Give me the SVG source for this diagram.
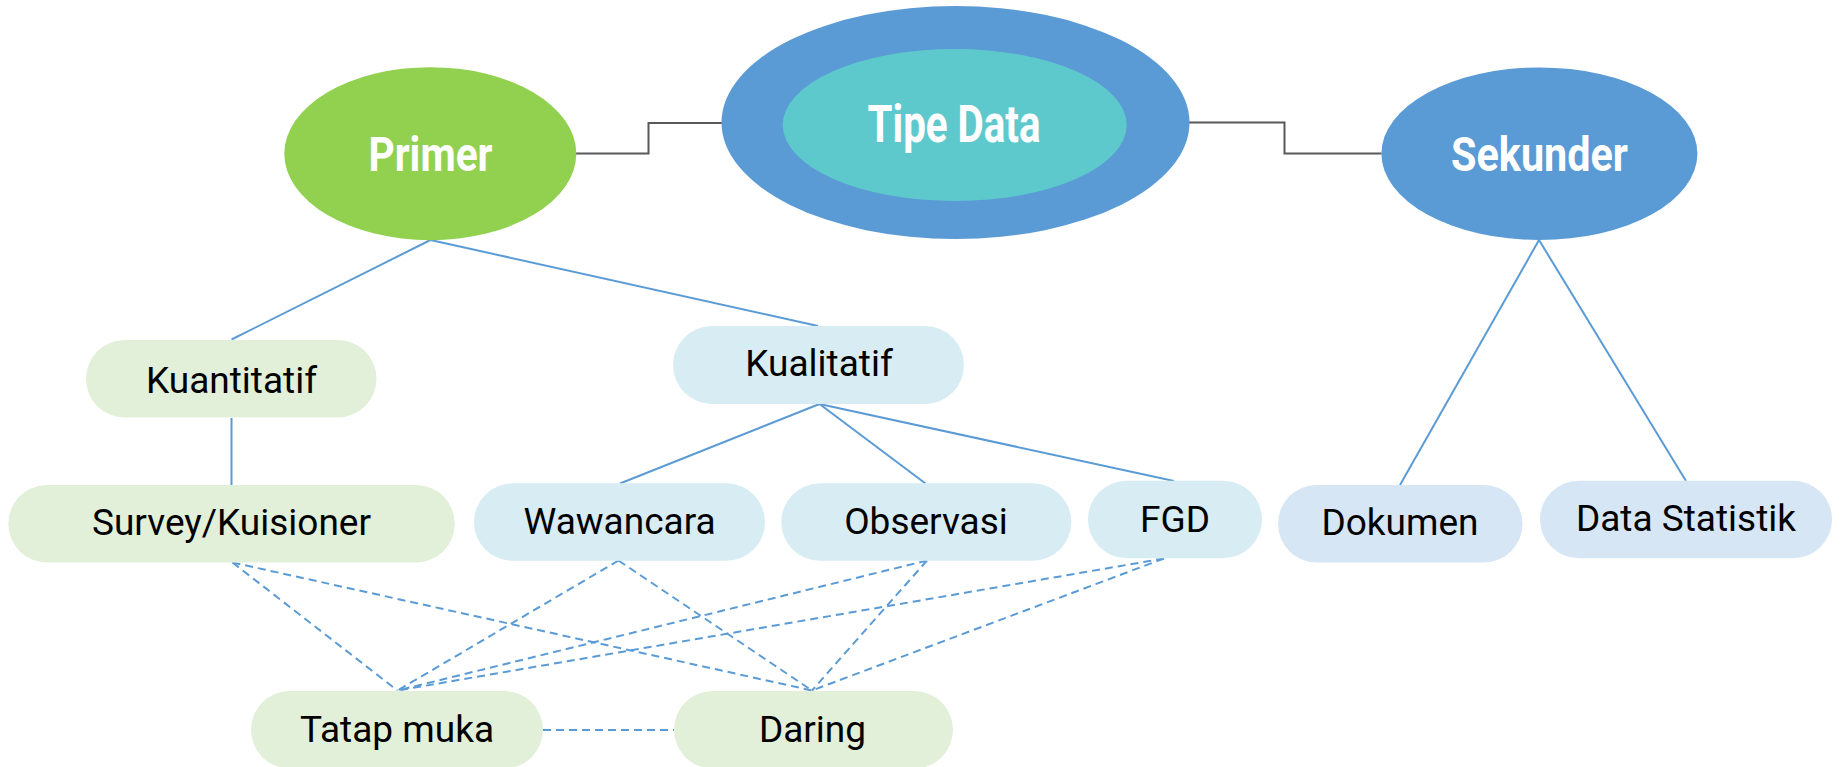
<svg xmlns="http://www.w3.org/2000/svg" width="1841" height="767" viewBox="0 0 1841 767">
<style>
.lbl{font-family:Roboto,"Liberation Sans",sans-serif;font-size:37px;fill:#000;text-anchor:middle}
.big{font-family:Roboto,"Liberation Sans",sans-serif;font-weight:bold;fill:#fff;text-anchor:middle}
.g{fill:#e2efd9}
.b{fill:#d8ecf3}
.d{fill:#d6e6f4}
.solid{stroke:#5b9bd5;stroke-width:2;fill:none}
.dash{stroke:#5b9bd5;stroke-width:2;fill:none;stroke-dasharray:8 5}
.elbow{stroke:#595959;stroke-width:2;fill:none}
</style>
<rect width="1841" height="767" fill="#fff"/>
<g id="connectors">
<path class="elbow" d="M576,153.5 H648.5 V123 H722"/>
<path class="elbow" d="M1188,122.5 H1284.5 V153.5 H1381.5"/>
<path class="solid" d="M430.5,240 L231.5,339.5"/>
<path class="solid" d="M430.5,240 L818,326"/>
<path class="solid" d="M231.5,418 V485"/>
<path class="solid" d="M819.5,404 L620,483.5"/>
<path class="solid" d="M819.5,404 L925.5,483.5"/>
<path class="solid" d="M819.5,404 L1174,481"/>
<path class="solid" d="M1539,240 L1400,485"/>
<path class="solid" d="M1539,240 L1686,481"/>
<path class="dash" d="M232.5,562.5 L397.5,690.5"/>
<path class="dash" d="M232.5,562.5 L812,690.5"/>
<path class="dash" d="M618.5,560.5 L397.5,690.5"/>
<path class="dash" d="M618.5,560.5 L812,690.5"/>
<path class="dash" d="M927,560.5 L397.5,690.5"/>
<path class="dash" d="M927,560.5 L812,690.5"/>
<path class="dash" d="M1164,558.5 L397.5,690.5"/>
<path class="dash" d="M1164,558.5 L812,690.5"/>
<path class="dash" d="M543,730 H674"/>
</g>
<g id="tipe-data">
<ellipse cx="955.5" cy="122.5" rx="234" ry="116.5" fill="#5b9bd5"/>
<ellipse cx="954.7" cy="125" rx="172" ry="76" fill="#5ec9cc"/>
<text class="big" x="954" y="142" font-size="51" textLength="173" lengthAdjust="spacingAndGlyphs">Tipe Data</text>
</g>
<g id="primer">
<ellipse cx="430.3" cy="153.7" rx="146" ry="86.5" fill="#92d050"/>
<text class="big" x="430.5" y="171" font-size="48" textLength="124" lengthAdjust="spacingAndGlyphs">Primer</text>
</g>
<g id="sekunder">
<ellipse cx="1539.4" cy="153.7" rx="158" ry="86.3" fill="#5b9bd5"/>
<text class="big" x="1539.5" y="171" font-size="48" textLength="177" lengthAdjust="spacingAndGlyphs">Sekunder</text>
</g>
<g id="kuantitatif">
<rect class="g" x="86" y="340" width="290.5" height="77.5" rx="38.7"/>
<text class="lbl" x="231.5" y="393">Kuantitatif</text>
</g>
<g id="kualitatif">
<rect class="b" x="673" y="326" width="291" height="78" rx="39"/>
<text class="lbl" x="819" y="376">Kualitatif</text>
</g>
<g id="survey">
<rect class="g" x="8.3" y="485" width="446.5" height="77.5" rx="38.7"/>
<text class="lbl" x="231.5" y="535">Survey/Kuisioner</text>
</g>
<g id="wawancara">
<rect class="b" x="474" y="483.3" width="291" height="77.5" rx="38.7"/>
<text class="lbl" x="619.5" y="534">Wawancara</text>
</g>
<g id="observasi">
<rect class="b" x="781.3" y="483.3" width="290" height="77.5" rx="38.7"/>
<text class="lbl" x="926" y="534">Observasi</text>
</g>
<g id="fgd">
<rect class="b" x="1088" y="480.7" width="174" height="77.5" rx="38.7"/>
<text class="lbl" x="1175" y="531.5">FGD</text>
</g>
<g id="dokumen">
<rect class="d" x="1278" y="485" width="244.5" height="77.5" rx="38.7"/>
<text class="lbl" x="1400" y="535">Dokumen</text>
</g>
<g id="data-statistik">
<rect class="d" x="1540" y="480.7" width="292" height="77.5" rx="38.7"/>
<text class="lbl" x="1686" y="531">Data Statistik</text>
</g>
<g id="tatap-muka">
<rect class="g" x="251" y="691" width="292" height="77.5" rx="38.7"/>
<text class="lbl" x="397" y="741.5">Tatap muka</text>
</g>
<g id="daring">
<rect class="g" x="674" y="691" width="279" height="77.5" rx="38.7"/>
<text class="lbl" x="812.5" y="741.5">Daring</text>
</g>
</svg>
